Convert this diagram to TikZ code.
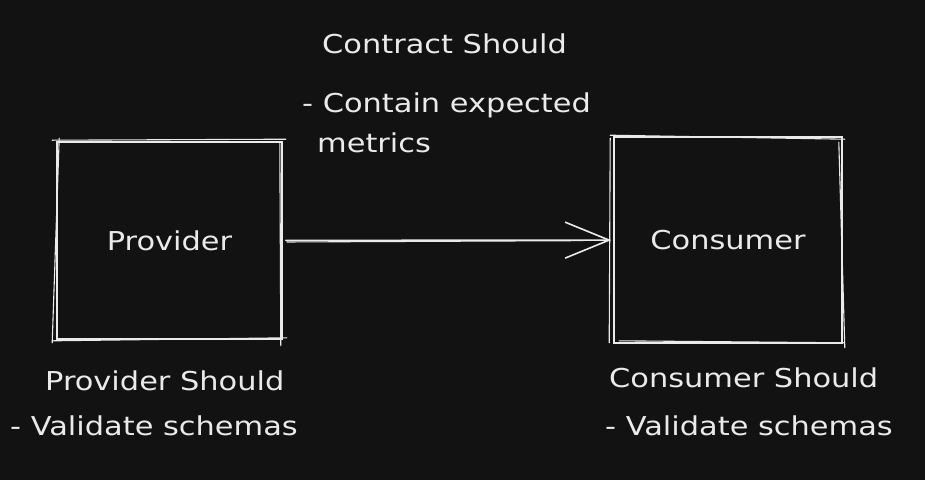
\documentclass[tikz,border=0pt]{standalone}
\usepackage{fontspec}
\setmainfont{DejaVu Sans}[FakeStretch=1.17]
\usetikzlibrary{arrows.meta}
\definecolor{bg}{HTML}{121212}
\definecolor{ink}{HTML}{EAEAEA}
\begin{document}
\begin{tikzpicture}[x=1pt,y=-1pt,
  boxnode/.style={draw=ink, line width=1.6pt, text=ink, inner sep=0pt,
    font=\fontsize{26}{31}\selectfont},
  sketch/.style={draw=ink, line width=1.1pt, line cap=round},
  lbl/.style={text=ink, anchor=base west, inner sep=0pt,
    font=\fontsize{26}{31}\selectfont},
  arr/.style={draw=ink, line width=1.6pt, line cap=round,
    -{Straight Barb[length=44pt,width=36pt,line width=1.6pt]}}]
\fill[bg] (0,0) rectangle (925,480);
\useasboundingbox (0,0) rectangle (925,480);

% boxes
\node[boxnode, minimum width=225pt, minimum height=197pt] (prov) at (169.5,240.5) {Provider};
\node[boxnode, minimum width=228pt, minimum height=206pt] (cons) at (728,240) {Consumer};

% sketchy second strokes
\draw[sketch] ([shift={(-4,-1)}]prov.north west) -- ([shift={(3,-2)}]prov.north east);
\draw[sketch] ([shift={(-3,1)}]prov.south west) -- ([shift={(4,-2)}]prov.south east);
\draw[sketch] ([shift={(3,-3)}]prov.north west) -- ([shift={(-4,3)}]prov.south west);
\draw[sketch] ([shift={(-3,2)}]prov.north east) -- ([shift={(-2,6)}]prov.south east);

\draw[sketch] ([shift={(-3,-1)}]cons.north west) -- ([shift={(2,3)}]cons.north east);
\draw[sketch] ([shift={(6,-3)}]cons.south west) -- ([shift={(2,-1)}]cons.south east);
\draw[sketch] ([shift={(-3,2)}]cons.north west) -- ([shift={(-4,-1)}]cons.south west);
\draw[sketch] ([shift={(-4,6)}]cons.north east) -- ([shift={(2,4)}]cons.south east);

% connector
\draw[arr, shorten <=3pt, shorten >=2pt] (prov) -- (cons);
\draw[sketch, shorten <=4pt, shorten >=30pt] ([yshift=-1.5]prov.east) -- ([yshift=-0.5]cons.west);

% labels
\node[lbl] (cs)  at (322,53)  {Contract Should};
\node[lbl] (cs1) at (302,112) {- Contain expected};
\node[lbl] (cs2) at (317,152) {metrics};
\node[lbl] (ps)  at (45,390)  {Provider Should};
\node[lbl] (ps1) at (10,435)  {- Validate schemas};
\node[lbl] (ks)  at (609,387) {Consumer Should};
\node[lbl] (ks1) at (605,435) {- Validate schemas};
\end{tikzpicture}
\end{document}
